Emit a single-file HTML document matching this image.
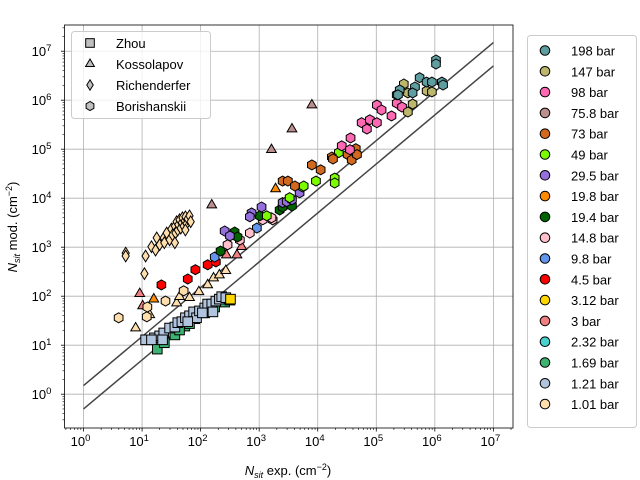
<!DOCTYPE html>
<html><head><meta charset="utf-8"><style>
body{margin:0;background:#fff;}
svg{display:block;font-family:"Liberation Sans","DejaVu Sans",sans-serif;}
</style></head><body>
<svg id="c" width="640" height="480" viewBox="0 0 640 480" xmlns="http://www.w3.org/2000/svg"></svg>
<script>
// Data: log10 of N_sit (experimental x, model y) per pressure/source
const x_1_69_zhou=[1.26,1.38,1.56,1.73,1.90,2.07,2.24,2.41,2.50,1.81,1.64];
const y_1_69_zhou=[0.92,1.05,1.21,1.39,1.54,1.66,1.78,1.88,1.92,1.44,1.31];
const x_1_21_zhou=[1.06,1.21,1.30,1.37,1.47,1.56,1.61,1.68,1.74,1.81,1.88,1.93,1.98,2.07,2.12,2.19,2.26,2.32,2.36,2.43,2.21,2.03,1.78,1.35,1.16];
const y_1_21_zhou=[1.11,1.15,1.19,1.25,1.35,1.37,1.46,1.48,1.56,1.60,1.68,1.56,1.70,1.76,1.84,1.84,1.90,1.94,1.99,1.97,1.68,1.66,1.48,1.11,1.11];
const x_3_12_zhou=[2.51];
const y_3_12_zhou=[1.94];
const x_1_01_rich=[0.72,0.72,1.04,1.06,1.16,1.25,1.30,1.37,1.42,1.47,1.50,1.52,1.56,1.57,1.59,1.61,1.62,1.64,1.66,1.68,1.69,1.71,1.73,1.74,1.76,1.78,1.81,1.83,1.74,1.56,1.38,1.23];
const y_1_01_rich=[2.88,2.82,2.46,2.82,3.01,3.19,3.05,3.19,3.29,3.15,3.37,3.25,3.43,3.29,3.52,3.35,3.46,3.56,3.39,3.50,3.60,3.43,3.54,3.62,3.48,3.58,3.64,3.52,3.35,3.09,3.09,2.94];
const x_1_01_bor=[0.60,1.08,1.09,1.40,1.71];
const y_1_01_bor=[1.56,1.58,1.78,1.90,2.11];
const x_1_01_kos=[0.89,1.13,1.59,1.81,1.97,2.12,2.22,2.32,2.43,1.64];
const y_1_01_kos=[1.35,1.62,1.86,1.97,2.09,2.23,2.37,2.43,2.52,1.99];
const x_3_kos=[0.96,1.01,2.44,2.62,2.70];
const y_3_kos=[2.05,1.80,2.84,2.84,3.01];
const x_19_8_kos=[1.20,3.28];
const y_19_8_kos=[1.94,4.19];
const x_75_8_kos=[2.19,3.21,3.56,3.90];
const y_75_8_kos=[3.86,4.99,5.41,5.90];
const x_4_5=[1.33,1.78,1.91,2.12,2.26];
const y_4_5=[2.23,2.35,2.54,2.64,2.70];
const x_9_8=[2.24,2.96];
const y_9_8=[2.80,3.39];
const x_19_4=[2.34,2.58,2.63,3.01,3.35,3.40,3.56];
const y_19_4=[2.92,3.31,3.21,3.64,3.76,3.82,3.84];
const x_29_5=[2.41,2.50,2.87,2.84,3.04,3.40,3.47,3.69,3.56];
const y_29_5=[3.33,3.23,3.70,3.62,3.82,3.91,3.93,4.11,3.97];
const x_14_8=[2.46,2.84,3.23,3.21,3.06,2.67];
const y_14_8=[3.05,3.29,3.56,3.60,3.56,3.15];
const x_49=[3.13,3.52,3.74,3.97,4.29,4.29,4.36,3.76];
const y_49=[3.64,4.01,4.23,4.35,4.41,4.31,4.93,4.25];
const x_73=[3.40,3.49,3.61,3.90,4.05,4.24,4.26,4.51,4.58,4.65,4.67];
const y_73=[4.35,4.35,4.25,4.68,4.58,4.84,4.80,4.89,4.78,5.01,4.89];
const x_98=[4.41,4.56,4.75,4.84,4.89,5.01,5.09,5.01,5.26,5.35,5.44,4.55];
const y_98=[5.07,5.23,5.54,5.41,5.60,5.90,5.80,5.54,5.68,5.94,5.86,4.99];
const x_147=[5.47,5.54,5.62,5.54,5.86,5.95,5.35];
const y_147=[6.33,6.15,5.92,5.76,6.19,6.17,6.11];
const x_198=[6.02,6.02,5.74,5.86,6.12,6.14,5.66,5.40,5.37,5.62,5.95];
const y_198=[6.82,6.74,6.46,6.37,6.37,6.31,6.27,6.21,6.11,6.15,6.37];
const legendLabels=["198 bar","147 bar","98 bar","75.8 bar","73 bar","49 bar","29.5 bar","19.8 bar","19.4 bar","14.8 bar","9.8 bar","4.5 bar","3.12 bar","3 bar","2.32 bar","1.69 bar","1.21 bar","1.01 bar"];
const legendColors=["#5f9ea0","#bdb76b","#ff69b4","#bc8f8f","#d2691e","#7cfc00","#9370db","#ff8c00","#006400","#ffc0cb","#6495ed","#ff0000","#ffd700","#f08080","#48d1cc","#3cb371","#b0c4de","#ffdead"];
const sourceLabels=["Zhou","Kossolapov","Richenderfer","Borishanskii"];
const tickExps=[0,1,2,3,4,5,6,7];
const lineFactors=[1.5,0.5];

const NS="http://www.w3.org/2000/svg";
const svg=document.getElementById('c');
const L=64.5,R=513,T=25,B=428;
const xmin=-0.325,xmax=7.335,ymin=-0.69,ymax=7.535;
function X(l){return L+(l-xmin)/(xmax-xmin)*(R-L);}
function Y(l){return B-(l-ymin)/(ymax-ymin)*(B-T);}
function mk(tag,attrs,parent){const e=document.createElementNS(NS,tag);for(const k in attrs)e.setAttribute(k,attrs[k]);(parent||svg).appendChild(e);return e;}

const grid=mk('g',{});


tickExps.forEach(e=>{
  mk('line',{x1:X(e),x2:X(e),y1:T,y2:B,stroke:'#b0b0b0','stroke-width':0.8},grid);
  mk('line',{x1:L,x2:R,y1:Y(e),y2:Y(e),stroke:'#b0b0b0','stroke-width':0.8},grid);
});
const axes=mk('g',{});


for(let e=-1;e<=7;e++){
  for(let m=1;m<10;m++){
    const l=e+Math.log10(m);
    const maj=m===1;
    if(l>=xmin&&l<=xmax) mk('line',{x1:X(l),x2:X(l),y1:B,y2:B+(maj?3.5:2),stroke:'#000','stroke-width':maj?0.8:0.6},axes);
    if(l>=ymin&&l<=ymax) mk('line',{x1:L,x2:L-(maj?3.5:2),y1:Y(l),y2:Y(l),stroke:'#000','stroke-width':maj?0.8:0.6},axes);
  }
}
tickExps.forEach(e=>{
  const tx=mk('text',{x:X(e)-3,y:B+18,'text-anchor':'middle','font-size':13},axes);
  
  
  tx.innerHTML='10<tspan dy="-5" font-size="9.5">'+e+'</tspan>';
  const ty=mk('text',{x:L-23,y:Y(e)+5,'text-anchor':'middle','font-size':13},axes);
  
  
  ty.innerHTML='10<tspan dy="-5" font-size="9.5">'+e+'</tspan>';
});

lineFactors.forEach(f=>{
  const ln=mk('line',{x1:X(0),y1:Y(Math.log10(f)),x2:X(7),y2:Y(7+Math.log10(f)),stroke:'#444','stroke-width':1.5});
  
  
});

function marker(type,cx,cy,fill,parent,s){
  s=s||1;let e;
  if(type==='s'){e=mk('rect',{x:cx-4.8*s,y:cy-4.8*s,width:9.6*s,height:9.6*s},parent);}
  else if(type==='^'){const r=5.6*s;e=mk('polygon',{points:`${cx},${cy-r} ${cx+r*0.87},${cy+r*0.5} ${cx-r*0.87},${cy+r*0.5}`},parent);}
  else if(type==='d'){const h=5.8*s,w=3.6*s;e=mk('polygon',{points:`${cx},${cy-h} ${cx+w},${cy} ${cx},${cy+h} ${cx-w},${cy}`},parent);}
  else {const r=5*s;let p=[];for(let i=0;i<6;i++){const a=Math.PI/2+i*Math.PI/3;p.push((cx+r*Math.cos(a)).toFixed(1)+','+(cy-r*Math.sin(a)).toFixed(1));}e=mk('polygon',{points:p.join(' ')},parent);}
  e.setAttribute('fill',fill);e.setAttribute('stroke','#000');e.setAttribute('stroke-width',1);
  return e;
}
const C={};legendLabels.forEach((l,i)=>C[l]=legendColors[i]);
const series=[
 [x_1_69_zhou,y_1_69_zhou,'s','1.69 bar'],
 [x_1_21_zhou,y_1_21_zhou,'s','1.21 bar'],
 [x_3_12_zhou,y_3_12_zhou,'s','3.12 bar'],
 [x_1_01_kos,y_1_01_kos,'^','1.01 bar'],
 [x_3_kos,y_3_kos,'^','3 bar'],
 [x_19_8_kos,y_19_8_kos,'^','19.8 bar'],
 [x_75_8_kos,y_75_8_kos,'^','75.8 bar'],
 [x_1_01_rich,y_1_01_rich,'d','1.01 bar'],
 [x_1_01_bor,y_1_01_bor,'h','1.01 bar'],
 [x_4_5,y_4_5,'h','4.5 bar'],
 [x_9_8,y_9_8,'h','9.8 bar'],
 [x_14_8,y_14_8,'h','14.8 bar'],
 [x_19_4,y_19_4,'h','19.4 bar'],
 [x_29_5,y_29_5,'h','29.5 bar'],
 [x_49,y_49,'h','49 bar'],
 [x_73,y_73,'h','73 bar'],
 [x_98,y_98,'h','98 bar'],
 [x_147,y_147,'h','147 bar'],
 [x_198,y_198,'h','198 bar']
];
series.forEach(([xs,ys,t,lab])=>{
  const g=mk('g',{});
  
  
  xs.forEach((v,i)=>{
    const m=marker(t,X(v),Y(ys[i]),C[lab],g);
    
    
  });
});

const fr=mk('rect',{x:L,y:T,width:R-L,height:B-T,fill:'none',stroke:'#000','stroke-width':0.8});



const xl=mk('text',{x:288,y:475,'text-anchor':'middle','font-size':13});


xl.innerHTML='<tspan font-style="italic">N</tspan><tspan font-style="italic" font-size="9" dy="3">sit</tspan><tspan dy="-3"> exp. (cm</tspan><tspan font-size="9" dy="-5">−2</tspan><tspan dy="5">)</tspan>';
const yl=mk('text',{x:0,y:0,'text-anchor':'middle','font-size':13,transform:'translate(17,227) rotate(-90)'});


yl.innerHTML='<tspan font-style="italic">N</tspan><tspan font-style="italic" font-size="9" dy="3">sit</tspan><tspan dy="-3"> mod. (cm</tspan><tspan font-size="9" dy="-5">−2</tspan><tspan dy="5">)</tspan>';

const lg1=mk('g',{});


mk('rect',{x:71.5,y:31.5,width:139,height:87,rx:3,fill:'#fff','fill-opacity':0.8,stroke:'#ccc'},lg1);
const stypes=['s','^','d','h'];
sourceLabels.forEach((s,i)=>{
  const y=43+i*21;
  const e=mk('g',{},lg1);
  
  
  marker(stypes[i],90,y,'#bfbfbf',e,0.9);
  mk('text',{x:116,y:y+5,'font-size':13},e).textContent=s;
});

const lg2=mk('g',{});


mk('rect',{x:527.5,y:35.5,width:109,height:392,rx:3,fill:'#fff',stroke:'#ccc'},lg2);
legendLabels.forEach((l,i)=>{
  const y=50.5+i*20.8;
  const e=mk('g',{},lg2);
  
  
  mk('circle',{cx:545,cy:y,r:4.8,fill:legendColors[i],stroke:'#000','stroke-width':1},e);
  mk('text',{x:571,y:y+5,'font-size':13},e).textContent=l;
});
</script>
</body></html>
